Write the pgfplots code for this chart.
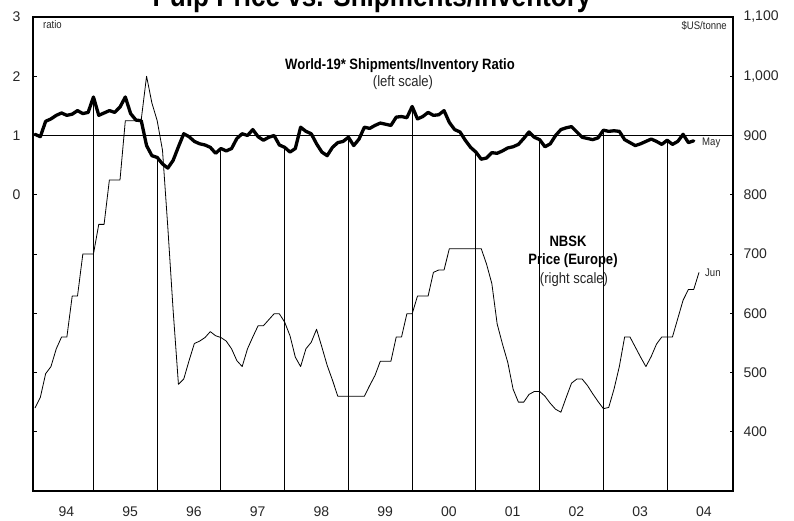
\documentclass[border=0pt]{standalone}
\usepackage{graphicx}
\usepackage{pgfplots}
\usepackage{pgfplotstable}
\pgfplotsset{compat=1.18}
\usepackage{fontspec}
\setmainfont{Liberation Sans}
\newcommand\cond[1]{\scalebox{0.87}[1]{#1}}

\pgfplotstableread{
m r
0 1.02
1 0.98
2 1.24
3 1.28
4 1.34
5 1.38
6 1.34
7 1.36
8 1.42
9 1.37
10 1.39
11 1.65
12 1.34
13 1.38
14 1.42
15 1.39
16 1.48
17 1.65
18 1.37
19 1.26
20 1.25
21 0.83
22 0.66
23 0.63
24 0.52
25 0.45
26 0.58
27 0.81
28 1.03
29 0.98
30 0.90
31 0.86
32 0.84
33 0.80
34 0.70
35 0.78
36 0.74
37 0.78
38 0.95
39 1.03
40 1.00
41 1.10
42 0.98
43 0.92
44 0.97
45 1.00
46 0.84
47 0.80
48 0.72
49 0.78
50 1.14
51 1.07
52 1.03
53 0.86
54 0.72
55 0.66
56 0.80
57 0.88
58 0.90
59 0.97
60 0.83
61 0.94
62 1.14
63 1.12
64 1.17
65 1.21
66 1.19
67 1.17
68 1.31
69 1.32
70 1.30
71 1.49
72 1.28
73 1.32
74 1.39
75 1.34
76 1.35
77 1.42
78 1.22
79 1.10
80 1.06
81 0.92
82 0.80
83 0.72
84 0.60
85 0.62
86 0.71
87 0.70
88 0.74
89 0.79
90 0.81
91 0.85
92 0.95
93 1.06
94 0.97
95 0.93
96 0.81
97 0.86
98 1.00
99 1.10
100 1.13
101 1.15
102 1.06
103 0.97
104 0.95
105 0.93
106 0.96
107 1.09
108 1.07
109 1.08
110 1.07
111 0.93
112 0.88
113 0.83
114 0.86
115 0.90
116 0.94
117 0.90
118 0.85
119 0.92
120 0.85
121 0.90
122 1.02
123 0.88
124 0.91
}\ratiotab

\pgfplotstableread{
m p
0 440
1 458
2 498
3 510
4 540
5 560
6 560
7 629
8 629
9 700
10 700
11 700
12 750
13 750
14 825
15 825
16 825
17 925
18 925
19 925
20 927
21 1000
22 955
23 925
24 875
25 745
26 605
27 480
28 489
29 520
30 549
31 553
32 559
33 569
34 562
35 559
36 553
37 540
38 520
39 510
40 540
41 560
42 579
43 579
44 589
45 599
46 599
47 585
48 562
49 526
50 510
51 540
52 551
53 573
54 543
55 512
56 487
57 460
58 460
59 460
60 460
61 460
62 460
63 478
64 495
65 519
66 519
67 519
68 560
69 560
70 599
71 599
72 629
73 629
74 629
75 669
76 673
77 673
78 709
79 709
80 709
81 709
82 709
83 709
84 709
85 683
86 650
87 582
88 548
89 517
90 472
91 450
92 450
93 463
94 468
95 468
96 460
97 448
98 438
99 433
100 458
101 482
102 489
103 489
104 478
105 464
106 451
107 439
108 441
109 472
110 510
111 560
112 560
113 543
114 526
115 510
116 527
117 548
118 560
119 560
120 560
121 591
122 622
123 640
124 640
125 669
}\pricetab

\begin{document}
\begin{tikzpicture}[x=1pt,y=1pt]
\path[use as bounding box] (0,0) rectangle (794,520);
\begin{scope}
\clip (0,0) rectangle (794,520);
\begin{axis}[
  at={(33pt,29pt)}, anchor=south west,
  scale only axis, width=700pt, height=474pt,
  xmin=-0.38, xmax=131.4, ymin=-5, ymax=3,
  ytick={-4,-3,-2,-1,0,1,2,3}, yticklabels={,,,,0,1,2,3},
  ytick pos=left, xtick pos=bottom,
  tick align=inside, major tick length=3.5pt,
  xtick={5.9,17.9,29.9,41.9,53.9,65.9,77.9,89.9,101.9,113.9,125.9},
  xticklabels={94,95,96,97,98,99,00,01,02,03,04},
  x tick style={draw=none},
  axis line style={line width=1.1pt},
  y tick style={line width=0.9pt, black},
  ticklabel style={font=\fontsize{14}{16}\selectfont, text=black!85},
  /pgf/number format/assume math mode=true,
  yticklabel style={xshift=-9pt},
  xticklabel style={yshift=-12pt},
]
\addplot[black, line width=0.9pt, unbounded coords=jump] coordinates {
 (11,-5) (11,1.65) (11,nan)
 (23,-5) (23,0.63) (23,nan)
 (35,-5) (35,0.78) (35,nan)
 (47,-5) (47,0.80) (47,nan)
 (59,-5) (59,0.97) (59,nan)
 (71,-5) (71,1.49) (71,nan)
 (83,-5) (83,0.72) (83,nan)
 (95,-5) (95,0.93) (95,nan)
 (107,-5) (107,1.09) (107,nan)
 (119,-5) (119,0.92)
};
\addplot[black, line width=0.9pt] coordinates {(-0.38,1) (131.4,1)};
\addplot[black, line width=3.3pt, line join=round, line cap=round] table[x=m,y=r]{\ratiotab};
\end{axis}
\begin{axis}[
  at={(33pt,29pt)}, anchor=south west,
  scale only axis, width=700pt, height=474pt,
  xmin=-0.38, xmax=131.4, ymin=300, ymax=1100,
  ytick={400,500,600,700,800,900,1000,1100},
  ytick pos=right, xtick=\empty,
  tick align=inside, major tick length=3.5pt,
  axis line style={line width=1.1pt},
  y tick style={line width=0.9pt, black},
  ticklabel style={font=\fontsize{14}{16}\selectfont, text=black!85},
  /pgf/number format/assume math mode=true,
  /pgf/number format/1000 sep={,},
  yticklabel style={xshift=7pt},
]
\addplot[black, line width=0.8pt, line join=round] table[x=m,y=p]{\pricetab};
\end{axis}

\node[anchor=base, inner sep=0, font=\bfseries\fontsize{30}{30}\selectfont] at (372,513.5) {\cond{Pulp Price vs. Shipments/Inventory}};
\node[anchor=base west, inner sep=0, font=\fontsize{11}{11}\selectfont, text=black!85] at (43,491) {\cond{ratio}};
\node[anchor=base east, inner sep=0, font=\fontsize{11}{11}\selectfont, text=black!85] at (727,490) {\cond{\$US/tonne}};
\node[anchor=base, inner sep=0, font=\bfseries\fontsize{15}{15}\selectfont] at (400,450) {\cond{World-19* Shipments/Inventory Ratio}};
\node[anchor=base, inner sep=0, font=\fontsize{15}{15}\selectfont, text=black!85] at (403,433) {\cond{(left scale)}};
\node[anchor=base, inner sep=0, font=\bfseries\fontsize{15}{15}\selectfont] at (568,273.3) {\cond{NBSK}};
\node[anchor=base, inner sep=0, font=\bfseries\fontsize{15}{15}\selectfont] at (573,255.7) {\cond{Price (Europe)}};
\node[anchor=base, inner sep=0, font=\fontsize{15}{15}\selectfont, text=black!85] at (574,236.7) {\cond{(right scale)}};
\node[anchor=base west, inner sep=0, font=\fontsize{11}{11}\selectfont, text=black!85] at (702,374.5) {\cond{May}};
\node[anchor=base west, inner sep=0, font=\fontsize{11}{11}\selectfont, text=black!85] at (705,244) {\cond{Jun}};
\end{scope}
\end{tikzpicture}
\end{document}
